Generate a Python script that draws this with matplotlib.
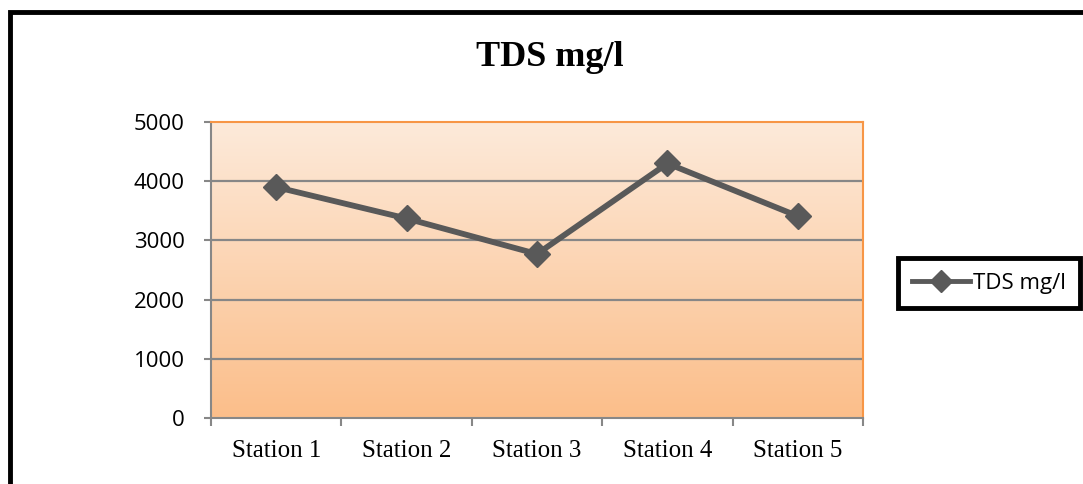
import matplotlib.pyplot as plt
import numpy as np
from matplotlib.patches import Rectangle

stations = ['Station 1', 'Station 2', 'Station 3', 'Station 4', 'Station 5']
tds = [3900, 3370, 2770, 4300, 3410]
y_ticks = [0, 1000, 2000, 3000, 4000, 5000]

fig = plt.figure(figsize=(10.83, 4.84), dpi=100)
ax = fig.add_axes([211 / 1083, 1 - 418 / 484, 652 / 1083, 296 / 484])

x = np.arange(len(stations))
ax.set_xlim(-0.5, len(stations) - 0.5)
ax.set_ylim(0, 5000)

# orange gradient in the plot area, darker at the bottom
t = np.linspace(0, 1, 256)[:, None]
bottom = np.array([251, 190, 138]) / 255
top = np.array([253, 234, 218]) / 255
img = bottom + (top - bottom) * t
ax.imshow(img[:, None, :], extent=[-0.5, len(stations) - 0.5, 0, 5000],
          origin='lower', aspect='auto', zorder=0)

for v in y_ticks[1:-1]:
    ax.axhline(v, color='#878787', lw=1.6, zorder=1)

ax.plot(x, tds, color='#595959', lw=4.2, marker='D', markersize=13,
        label='TDS mg/l', zorder=3)

for side in ['top', 'right']:
    ax.spines[side].set_color('#F79646')
    ax.spines[side].set_linewidth(1.5)
for side in ['left', 'bottom']:
    ax.spines[side].set_color('#878787')
    ax.spines[side].set_linewidth(1.5)

ax.set_yticks(y_ticks)
ax.set_yticklabels([str(v) for v in y_ticks], fontfamily='Open Sans', fontsize=16)
ax.tick_params(axis='y', length=5, width=1.5, color='#878787', pad=14)

ax.set_xticks(np.arange(-0.5, len(stations)), minor=False)
ax.set_xticklabels([])
ax.set_xticks(x, minor=True)
ax.set_xticklabels(stations, minor=True, fontfamily='Liberation Serif', fontsize=18)
ax.tick_params(axis='x', which='major', length=6, width=1.5, color='#878787')
ax.tick_params(axis='x', which='minor', length=0, pad=16)

fig.text(550 / 1083, 1 - 58 / 484, 'TDS mg/l', ha='center', va='center',
         fontfamily='Liberation Serif', fontweight='bold', fontsize=26)

leg = fig.legend(loc='center', bbox_to_anchor=(989 / 1083, 1 - 283 / 484),
                 prop={'family': 'Open Sans', 'size': 16}, frameon=True,
                 fancybox=False, framealpha=1, handlelength=2.6,
                 borderpad=0.65, handletextpad=0.15, borderaxespad=0)
leg.get_frame().set_edgecolor('black')
leg.get_frame().set_linewidth(3.5)
for h in leg.legend_handles:
    h.set_markersize(11)
    h.set_linewidth(3.5)

# black chart-area border, running off the right and bottom edges
fig.patches.append(Rectangle((10 / 1083, -0.1), 1.2, 1 - 12 / 484 + 0.1,
                             transform=fig.transFigure, fill=False,
                             edgecolor='black', linewidth=3.5))

fig.savefig('out.png')
